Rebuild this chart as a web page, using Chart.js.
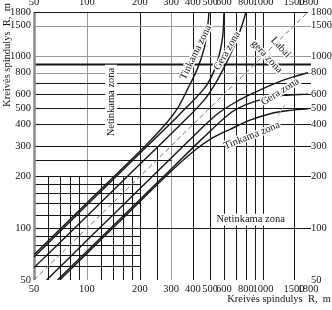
<!DOCTYPE html>
<html>
<head>
<meta charset="utf-8">
<script src="https://cdn.jsdelivr.net/npm/chart.js@4.4.1/dist/chart.umd.min.js"></script>
<style>
  html, body { margin: 0; padding: 0; background: #fff; }
  canvas { display: block; }
</style>
</head>
<body>
<canvas id="nomo" width="332" height="310"></canvas>
<script>
// tick labels (both axes, both sides)
const xTicks = [50, 100, 200, 300, 400, 500, 600, 800, 1000, 1500, 1800];
const yTicks = [50, 100, 200, 300, 400, 500, 600, 800, 1000, 1500, 1800];

// grid: full length lines, light ones, and the partial ones in the lower-left corner
const gridX = [100, 200, 300, 400, 500, 600, 700, 800, 900, 1000, 1500];
const gridY = [100, 200, 300, 400, 500, 600, 700, 800, 900, 1000, 1500];
const lightX = [100, 300];
const lightY = [800, 1000, 1500];
const boxLines = [60, 70, 80, 90, 120, 140, 160, 180];   // drawn up to 200
const midLines = [250];                                   // drawn up to 300

// boundary curves [R1, R2]
const curveU1 = [[50, 70], [107, 150], [214, 300], [278, 400], [328, 500], [375, 650], [425, 850], [462, 1100], [482, 1400], [493, 1800]];
const curveU2 = [[50, 68], [110, 150], [220, 300], [330, 450], [465, 650], [522, 800], [562, 1000], [590, 1300], [600, 1800]];
const curveU3 = [[50, 59], [85, 100], [170, 200], [340, 400], [460, 550], [540, 700], [615, 900], [700, 1200], [758, 1500], [800, 1800]];
const curveD1 = [[70, 50], [150, 107], [300, 214], [400, 278], [500, 328], [650, 375], [850, 425], [1100, 462], [1400, 482], [1800, 493]];
const curveD2 = [[68, 50], [150, 110], [300, 220], [450, 330], [650, 465], [800, 522], [1000, 562], [1300, 590], [1800, 600]];
const curveD3 = [[59, 50], [100, 85], [200, 170], [400, 340], [550, 460], [700, 540], [900, 615], [1200, 700], [1500, 758], [1800, 800]];
const diagonal = [[50, 50], [1800, 1800]];

const zoneNotes = [
  { text: 'Netinkama zona', at: [137, 540], angle: -90, box: true },
  { text: 'Netinkama zona', at: [850, 112], angle: 0, box: true },
  { text: 'Tinkama zona', at: [415, 1050], angle: -64 },
  { text: 'Gera zona', at: [625, 1070], angle: -60 },
  { text: 'Labai', at: [1260, 1120], angle: 47 },
  { text: 'gera zona', at: [1050, 990], angle: 47 },
  { text: 'Gera zona', at: [1250, 620], angle: -32 },
  { text: 'Tinkama zona', at: [865, 345], angle: -22 }
];
const leaders = [
  [[1215, 450], [1330, 520]]
];

const SERIF = "'Liberation Serif', 'DejaVu Serif', serif";
const INK = '#151515';
const title = 'Kreivės spindulys  R,  m';

Chart.defaults.font.family = SERIF;
Chart.defaults.color = INK;

const toPts = arr => arr.map(([x, y]) => ({ x, y }));

const nomogram = {
  id: 'nomogram',
  beforeDatasetsDraw(chart) {
    const { ctx, chartArea: a, scales: { x, y } } = chart;
    const px = v => Math.round(x.getPixelForValue(v)) + 0.5;
    const py = v => Math.round(y.getPixelForValue(v)) + 0.5;
    const seg = (x0, y0, x1, y1, color, w) => {
      ctx.beginPath();
      ctx.strokeStyle = color;
      ctx.lineWidth = w;
      ctx.moveTo(x0, y0);
      ctx.lineTo(x1, y1);
      ctx.stroke();
    };
    ctx.save();
    gridX.forEach(v => seg(px(v), a.bottom, px(v), a.top, lightX.includes(v) ? '#9a9a9a' : INK, 1));
    gridY.forEach(v => seg(a.left, py(v), a.right + 3, py(v), lightY.includes(v) ? '#9a9a9a' : INK, v === 900 ? 2 : 1));
    boxLines.forEach(v => {
      seg(px(v), a.bottom, px(v), py(200), INK, 1);
      seg(a.left, py(v), px(200), py(v), INK, 1);
    });
    midLines.forEach(v => {
      seg(px(v), a.bottom, px(v), py(300), INK, 1);
      seg(a.left, py(v), px(300), py(v), INK, 1);
    });
    // frame: heavy grey left edge, black top edge
    seg(a.left + 0.5, a.top, a.left + 0.5, a.bottom, '#8a8a8a', 2.5);
    seg(a.left, a.top + 0.5, a.right, a.top + 0.5, INK, 1.2);
    ctx.restore();
  },
  afterDatasetsDraw(chart) {
    const { ctx, scales: { x, y } } = chart;
    ctx.save();
    ctx.strokeStyle = '#999';
    ctx.lineWidth = 0.8;
    leaders.forEach(([p, q]) => {
      ctx.beginPath();
      ctx.moveTo(x.getPixelForValue(p[0]), y.getPixelForValue(p[1]));
      ctx.lineTo(x.getPixelForValue(q[0]), y.getPixelForValue(q[1]));
      ctx.stroke();
    });
    ctx.font = `10.5px ${SERIF}`;
    ctx.textAlign = 'center';
    ctx.textBaseline = 'middle';
    zoneNotes.forEach(n => {
      ctx.save();
      ctx.translate(x.getPixelForValue(n.at[0]), y.getPixelForValue(n.at[1]));
      ctx.rotate(n.angle * Math.PI / 180);
      const w = ctx.measureText(n.text).width;
      if (n.box) {
        ctx.fillStyle = '#fff';
        ctx.fillRect(-w / 2 - 3, -6, w + 6, 12);
      } else {
        ctx.strokeStyle = '#fff';
        ctx.lineWidth = 3;
        ctx.strokeText(n.text, 0, 0);
      }
      ctx.fillStyle = INK;
      ctx.fillText(n.text, 0, 0);
      ctx.restore();
    });
    // axis titles
    ctx.fillStyle = INK;
    ctx.textAlign = 'right';
    ctx.fillText(title, 331, 299);
    ctx.translate(7, 55);
    ctx.rotate(-Math.PI / 2);
    ctx.textAlign = 'center';
    ctx.fillText(title, 0, 0);
    ctx.restore();
  }
};

const logAxis = (position, ticks, fit) => ({
  type: 'logarithmic',
  position,
  min: 50,
  max: 1800,
  grid: { display: false, drawTicks: false },
  border: { display: false },
  afterBuildTicks: s => { s.ticks = ticks.map(v => ({ value: v })); },
  afterFit: fit,
  ticks: {
    autoSkip: false,
    maxRotation: 0,
    padding: 3,
    color: INK,
    font: { size: 10.5, family: SERIF },
    callback: v => String(v)
  }
});

const line = (pts, extra) => Object.assign({
  data: toPts(pts),
  borderColor: INK,
  borderWidth: 1.4,
  pointRadius: 0,
  tension: 0.35,
  fill: false,
  xAxisID: 'x',
  yAxisID: 'y'
}, extra);

new Chart(document.getElementById('nomo'), {
  type: 'line',
  data: {
    datasets: [
      line(diagonal, { borderColor: '#777', borderWidth: 1, borderDash: [5, 3], tension: 0 }),
      line(curveU1),
      line(curveU2),
      line(curveU3),
      line(curveD1),
      line(curveD2),
      line(curveD3)
    ]
  },
  options: {
    responsive: false,
    animation: false,
    layout: { padding: 0 },
    plugins: {
      legend: { display: false },
      tooltip: { enabled: false }
    },
    scales: {
      x: logAxis('bottom', xTicks, s => { s.height = 30; }),
      xTop: logAxis('top', xTicks, s => { s.height = 12; }),
      y: logAxis('left', yTicks, s => { s.width = 34; }),
      yRight: logAxis('right', yTicks, s => { s.width = 24; })
    }
  },
  plugins: [nomogram]
});
</script>
</body>
</html>
